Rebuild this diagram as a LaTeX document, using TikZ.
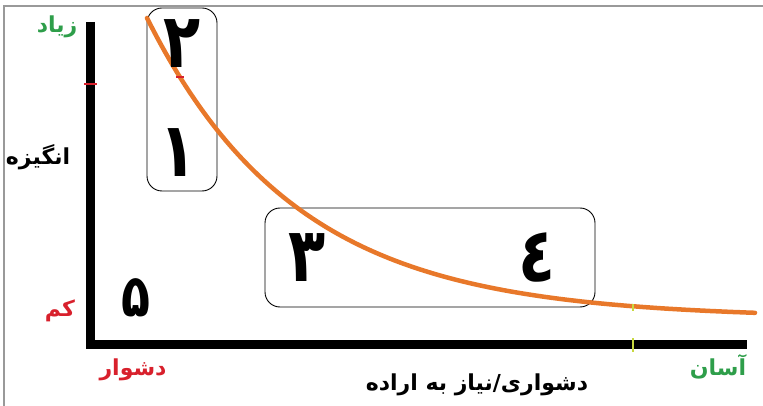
\documentclass[tikz,border=0pt]{standalone}
\usepackage{graphicx}
\usepackage{fontspec}
\TeXXeTstate=1
\newfontfamily\arabicfont[Script=Arabic]{DejaVu Sans}
\definecolor{curveorange}{HTML}{E8782A}
\definecolor{labgreen}{HTML}{2E9E4A}
\definecolor{labred}{HTML}{D8202C}
\definecolor{tickyellow}{HTML}{C8D840}
\newcommand{\tallnum}[1]{\scalebox{0.95}[1.18]{\beginR #1\endR}}
\tikzset{
  axis/.style={line width=9pt, line join=miter},
  zone/.style={draw=black, line width=0.9pt, rounded corners=15pt, inner sep=0pt},
  digit/.style={font=\arabicfont\bfseries\fontsize{64}{64}\selectfont, inner sep=0pt},
  lab/.style={font=\arabicfont\bfseries\fontsize{22}{22}\selectfont, inner sep=0pt},
  frameline/.style={draw=gray!80, line width=1.6pt}
}
\begin{document}
\begin{tikzpicture}[x=1pt,y=-1pt]
\useasboundingbox (0,0) rectangle (763,406);
% frame
\coordinate (fl) at (4,406);
\coordinate (ftl) at (4,6);
\coordinate (ftr) at (763,6);
\draw[frameline] (fl) -- (ftl) -- (ftr);
% zones
\node[zone, minimum width=70pt, minimum height=183pt] (z1) at (182,99.5) {};
\node[zone, minimum width=330pt, minimum height=99pt] (z2) at (430,257.5) {};
% axes
\coordinate (ytop) at (90,22);
\coordinate (O) at (90,344);
\coordinate (xend) at (747,344);
\draw[axis] (ytop) -- (O) -- (xend);
% ticks
\coordinate (yt1) at (84,84);
\coordinate (yt2) at (97,84);
\draw[labred, line width=2pt] (yt1) -- (yt2);
\coordinate (xt1) at (633,338);
\coordinate (xt2) at (633,352);
\draw[tickyellow, line width=2pt] (xt1) -- (xt2);
% curve
\draw[curveorange, line width=4.5pt, line cap=round]
  plot[domain=147:755, samples=120, smooth] ({\x},{318-300*exp(-(\x-147)/150)});
\coordinate (ct1) at (633,304);
\coordinate (ct2) at (633,311);
\draw[tickyellow, line width=2pt] (ct1) -- (ct2);
\coordinate (cr1) at (176,77);
\coordinate (cr2) at (184,77);
\draw[labred, line width=2pt] (cr1) -- (cr2);
% digits
\node[digit] (d2) at (182,44) {\tallnum{۲}};
\node[digit] (d1) at (178,153) {\tallnum{۱}};
\node[digit] (d3) at (307,258) {\tallnum{۳}};
\node[digit] (d4) at (537,257) {\tallnum{٤}};
\node[digit, font=\arabicfont\bfseries\fontsize{50}{50}\selectfont] (d5) at (136,298) {\tallnum{۵}};
% labels
\node[lab, text=labgreen] (high) at (57,27) {\beginR زیاد\endR};
\node[lab, text=black] (motiv) at (38,157) {\beginR انگیزه\endR};
\node[lab, text=labred] (low) at (60,311) {\beginR کم\endR};
\node[lab, text=labred] (hard) at (133,370) {\beginR دشوار\endR};
\node[lab, text=labgreen] (easy) at (718,367) {\beginR آسان\endR};
\node[lab, text=black] (xtitle) at (477,385) {\beginR دشواری/نیاز به اراده\endR};
\end{tikzpicture}
\end{document}
